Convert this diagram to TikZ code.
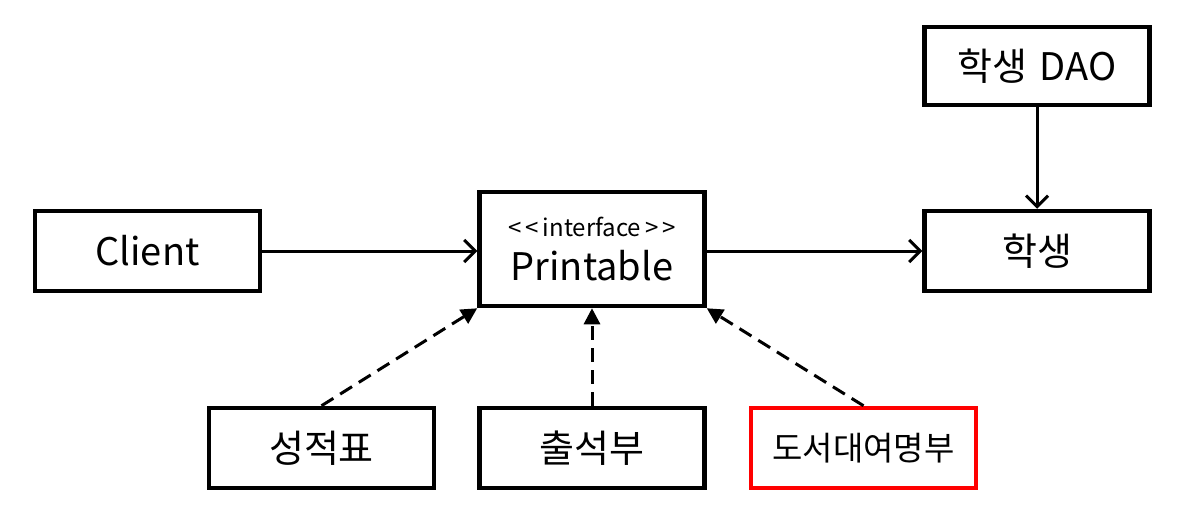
\documentclass[tikz,border=0pt]{standalone}
\usepackage{fontspec}
\setmainfont{Noto Sans CJK KR}
\usetikzlibrary{arrows.meta}
\tikzset{
  box/.style={draw=black, line width=4.5pt, fill=white, minimum width=225pt, minimum height=80pt, inner sep=0pt, font=\fontsize{38}{42}\selectfont},
  redbox/.style={box, draw=red},
  assoc/.style={line width=3pt, -{Straight Barb[length=11pt,width=22pt,line width=3pt]}},
  realize/.style={line width=3pt, dash pattern=on 14pt off 8pt, -{Triangle[length=16pt,width=16pt]}},
}
\begin{document}
\begin{tikzpicture}[x=1pt,y=-1pt]
\useasboundingbox (0,0) rectangle (1178,522);
\node[box] (client) at (147.5,251) {Client};
\node[box, minimum height=114pt, align=center] (print) at (592,249) {{\fontsize{24}{26}\selectfont <\,<\,interface\,>\,>}\\[2pt]Printable};
\node[box] (st) at (1037,251) {학생};
\node[box, minimum height=78pt] (dao) at (1037,66) {학생\hspace{4pt} DAO};
\node[box] (s1) at (321.5,448) {성적표};
\node[box] (s2) at (592,448) {출석부};
\node[redbox, font=\fontsize{33}{36}\selectfont] (s3) at (863.5,448) {도서대여명부};
\draw[assoc] (client.east) -- (print.west |- client.east);
\draw[assoc] (print.east |- st.west) -- (st.west);
\draw[assoc] (dao.south) -- (st.north);
\draw[realize] (s1.north) -- (print.south west);
\draw[realize] (s2.north) -- (print.south);
\draw[realize] (s3.north) -- (print.south east);
\end{tikzpicture}
\end{document}
